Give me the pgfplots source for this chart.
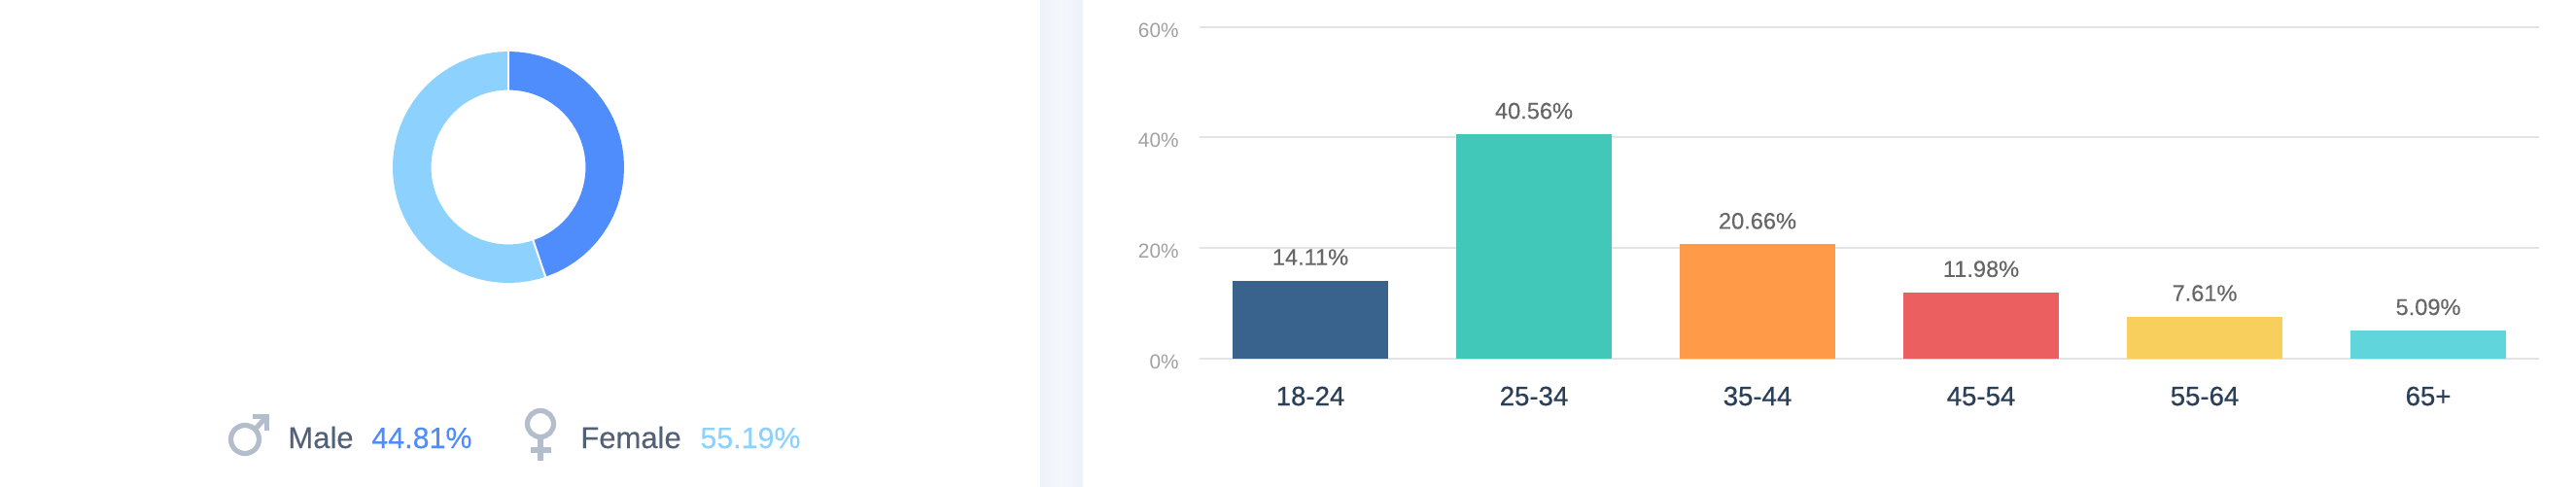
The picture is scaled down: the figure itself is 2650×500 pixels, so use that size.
\documentclass[border=0pt]{standalone}
\usepackage{pgfplots}
\pgfplotsset{compat=1.18}
\usepgfplotslibrary{polar}
\usepackage{fontspec}
\setmainfont{Liberation Sans}
\newfontfamily\med[FakeBold=0.6]{Liberation Sans}
\newfontfamily\lightmed[FakeBold=0.2]{Liberation Sans}
\definecolor{cGrid}{HTML}{E3E3E3}
\definecolor{cTick}{HTML}{A0A0A0}
\definecolor{cVal}{HTML}{666666}
\definecolor{cCat}{HTML}{2A3F58}
\definecolor{cMale}{HTML}{508DFC}
\definecolor{cFemale}{HTML}{8DD2FF}
\definecolor{cLegend}{HTML}{536178}
\definecolor{cIcon}{HTML}{B4BDCB}
\definecolor{cStripE}{HTML}{EEF2F9}
\definecolor{cStrip}{HTML}{F4F7FC}
\definecolor{b1}{HTML}{39628C}
\definecolor{b2}{HTML}{42C8B8}
\definecolor{b3}{HTML}{FF9A48}
\definecolor{b4}{HTML}{EB5F60}
\definecolor{b5}{HTML}{F8CF5C}
\definecolor{b6}{HTML}{60D5DC}
\begin{document}
\begin{tikzpicture}[x=0.5pt,y=0.5pt]
\path[use as bounding box] (0,0) rectangle (2650,500);
\shade[left color=cStripE,right color=cStripE,middle color=cStrip] (1070,0) rectangle (1114,500);
% donut
\begin{axis}[at={(202pt,104.5pt)},anchor=south west,scale only axis,width=119pt,height=119pt,
  xmin=-119,xmax=119,ymin=-119,ymax=119,hide axis,clip=false,data cs=polar]
\addplot[cMale,line width=19.75pt,line cap=butt,no markers] coordinates {
(90,99.25)(85,99.25)(80,99.25)(75,99.25)(70,99.25)(65,99.25)(60,99.25)(55,99.25)(50,99.25)(45,99.25)(40,99.25)(35,99.25)(30,99.25)(25,99.25)(20,99.25)(15,99.25)(10,99.25)(5,99.25)(0,99.25)(-5,99.25)(-10,99.25)(-15,99.25)(-20,99.25)(-25,99.25)(-30,99.25)(-35,99.25)(-40,99.25)(-45,99.25)(-50,99.25)(-55,99.25)(-60,99.25)(-65,99.25)(-71.3,99.25)};
\addplot[cFemale,line width=19.75pt,line cap=butt,no markers] coordinates {
(-71.3,99.25)(-75,99.25)(-80,99.25)(-85,99.25)(-90,99.25)(-95,99.25)(-100,99.25)(-105,99.25)(-110,99.25)(-115,99.25)(-120,99.25)(-125,99.25)(-130,99.25)(-135,99.25)(-140,99.25)(-145,99.25)(-150,99.25)(-155,99.25)(-160,99.25)(-165,99.25)(-170,99.25)(-175,99.25)(-180,99.25)(-185,99.25)(-190,99.25)(-195,99.25)(-200,99.25)(-205,99.25)(-210,99.25)(-215,99.25)(-220,99.25)(-225,99.25)(-230,99.25)(-235,99.25)(-240,99.25)(-245,99.25)(-250,99.25)(-255,99.25)(-260,99.25)(-265,99.25)(-270,99.25)};
\addplot[white,line width=1pt,no markers] coordinates {(90,78)(90,121)};
\addplot[white,line width=1pt,no markers] coordinates {(-71.3,78)(-71.3,121)};
\end{axis}
% bars
\begin{axis}[at={(617pt,65.5pt)},anchor=south west,scale only axis,width=689pt,height=170.7pt,
  xmin=-0.4957,xmax=5.4957,ymin=0,ymax=60,
  ybar,bar width=80pt,bar shift=0pt,
  axis line style={draw=none},
  ymajorgrids,
  grid style={cGrid,line width=1pt},
  ytick={0,20,40,60},
  yticklabel={\pgfmathprintnumber{\tick}\%},
  /pgf/number format/assume math mode=true,
  xtick={0,1,2,3,4,5},
  xticklabels={18-24,25-34,35-44,45-54,55-64,65+},
  major tick length=0pt,
  xticklabel style={text=cCat,font=\fontsize{13.8}{16}\med,inner sep=0pt,anchor=base,yshift=-24pt},
  yticklabel style={text=cTick,font=\fontsize{10.4}{12}\selectfont,inner sep=0pt,anchor=east,xshift=-10.5pt,yshift=-1.7pt},
  clip=false,
  nodes near coords={\pgfmathprintnumber[fixed,fixed zerofill,precision=2]{\pgfplotspointmeta}\%},
  every node near coord/.append style={font=\fontsize{11.8}{14}\lightmed,text=cVal,inner sep=0pt,anchor=base,yshift=8pt},
]
\addplot[draw=none,fill=b1] coordinates {(0,14.11)};
\addplot[draw=none,fill=b2] coordinates {(1,40.56)};
\addplot[draw=none,fill=b3] coordinates {(2,20.66)};
\addplot[draw=none,fill=b4] coordinates {(3,11.98)};
\addplot[draw=none,fill=b5] coordinates {(4,7.61)};
\addplot[draw=none,fill=b6] coordinates {(5,5.09)};
\end{axis}
% legend
\node[anchor=base west,inner sep=0pt,text=cLegend,font=\fontsize{15.5}{18}\lightmed] at (296,39) {Male};
\node[anchor=base west,inner sep=0pt,text=cMale,font=\fontsize{15.2}{18}\lightmed] at (382,39) {44.81\%};
\node[anchor=base west,inner sep=0pt,text=cLegend,font=\fontsize{15.5}{18}\lightmed] at (597,39) {Female};
\node[anchor=base west,inner sep=0pt,text=cFemale,font=\fontsize{15.2}{18}\lightmed] at (720,39) {55.19\%};
% icons
\begin{scope}[cIcon,line width=2.6pt]
\draw (252,48) circle[radius=14.5];
\draw (262,58) -- (273,70);
\draw[line cap=butt] (260,71.5) -- (274.5,71.5) -- (274.5,57);
\draw (556,64) circle[radius=13.5];
\draw[line cap=butt] (556,50) -- (556,26);
\draw[line cap=butt] (546,37) -- (567,37);
\end{scope}
\end{tikzpicture}
\end{document}
